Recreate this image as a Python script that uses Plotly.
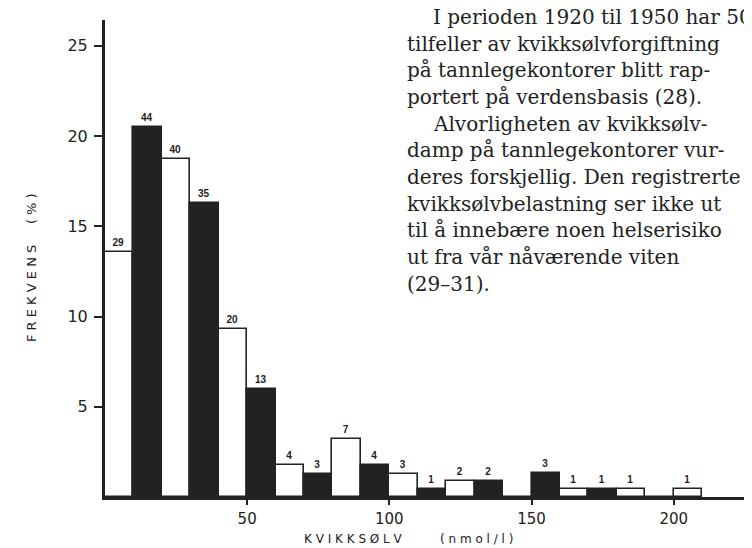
import plotly.graph_objects as go

# ---- data ----
bin_left = [0, 10, 20, 30, 40, 50, 60, 70, 80, 90, 100, 110, 120, 130, 140, 150, 160, 170, 180, 190, 200]
frekvens_pct = [13.6, 20.5, 18.7, 16.3, 9.3, 6.0, 1.75, 1.3, 3.2, 1.75, 1.3, 0.45, 0.9, 0.9, 0.0, 1.35, 0.45, 0.45, 0.45, 0.0, 0.45]
antall = ["29", "44", "40", "35", "20", "13", "4", "3", "7", "4", "3", "1", "2", "2", "", "3", "1", "1", "1", "", "1"]
x_ticks = [50, 100, 150, 200]
y_ticks = [5, 10, 15, 20, 25]

text_lines = [
    "I perioden 1920 til 1950 har 50",
    "tilfeller av kvikksølvforgiftning",
    "på tannlegekontorer blitt rap-",
    "portert på verdensbasis (28).",
    "Alvorligheten av kvikksølv-",
    "damp på tannlegekontorer vur-",
    "deres forskjellig. Den registrerte",
    "kvikksølvbelastning ser ikke ut",
    "til å innebære noen helserisiko",
    "ut fra vår nåværende viten",
    "(29–31).",
]
indented = [True, False, False, False, True, False, False, False, False, False, False]

INK = "#222222"
W, H = 752, 548
ML, MR, MT, MB = 97, 1, 12, 59
PW, PH = W - ML - MR, H - MT - MB

def px(xp):
    return (xp - ML) / PW

def py(yp):
    return (H - MB - yp) / PH

centers = [b + 5 for b in bin_left]
fills = ["white" if i % 2 == 0 else INK for i in range(len(bin_left))]

fig = go.Figure()
fig.add_trace(go.Bar(
    x=centers, y=frekvens_pct, width=10,
    marker=dict(color=fills, line=dict(color=INK, width=1.6)),
    text=antall, textposition="outside",
    textfont=dict(family="Liberation Sans", size=10, color=INK, weight="bold"),
    cliponaxis=False, hoverinfo="skip",
))

annotations = []
# y-axis title
annotations.append(dict(
    text="F R E K V E N S&nbsp;&nbsp;&nbsp;&nbsp;&nbsp;( % )", xref="paper", yref="paper",
    x=px(23), y=py(260), textangle=-90, showarrow=False,
    font=dict(family="DejaVu Sans", size=13, color=INK),
    xanchor="center", yanchor="middle"))
# x-axis title
annotations.append(dict(
    text="K V I K K S Ø L V" + "&nbsp;" * 10 + "( n m o l / l )", xref="paper", yref="paper",
    x=px(400), y=py(531), showarrow=False,
    font=dict(family="DejaVu Sans", size=12, color=INK),
    xanchor="center", yanchor="middle"))

# body text on the right
base_centers = [9, 36, 62, 89, 116, 142, 169, 196, 222, 249, 276]
for line, ind, yc in zip(text_lines, indented, base_centers):
    annotations.append(dict(
        text=line, xref="paper", yref="paper",
        x=px(423 if ind else 397), y=py(yc), showarrow=False,
        xanchor="left", yanchor="middle",
        font=dict(family="DejaVu Serif", size=20, color=INK)))

fig.update_layout(
    width=W, height=H,
    margin=dict(l=ML, r=MR, t=MT, b=MB, pad=0),
    paper_bgcolor="white", plot_bgcolor="white",
    showlegend=False, bargap=0,
    annotations=annotations,
    xaxis=dict(range=[0, 230], tickvals=x_ticks, ticks="outside", ticklen=5, tickwidth=1.5,
               tickcolor=INK, showline=True, linewidth=2.5, linecolor=INK,
               showgrid=False, zeroline=False, ticklabelstandoff=1,
               tickfont=dict(family="DejaVu Sans", size=15, color=INK)),
    yaxis=dict(range=[0, PH / 18.05], tickvals=y_ticks, ticks="outside", ticklen=8, tickwidth=1.5,
               tickcolor=INK, showline=True, linewidth=3, linecolor=INK,
               showgrid=False, zeroline=False, ticklabelstandoff=3,
               tickfont=dict(family="DejaVu Sans", size=16, color=INK)),
)

fig.write_html("out.html")
